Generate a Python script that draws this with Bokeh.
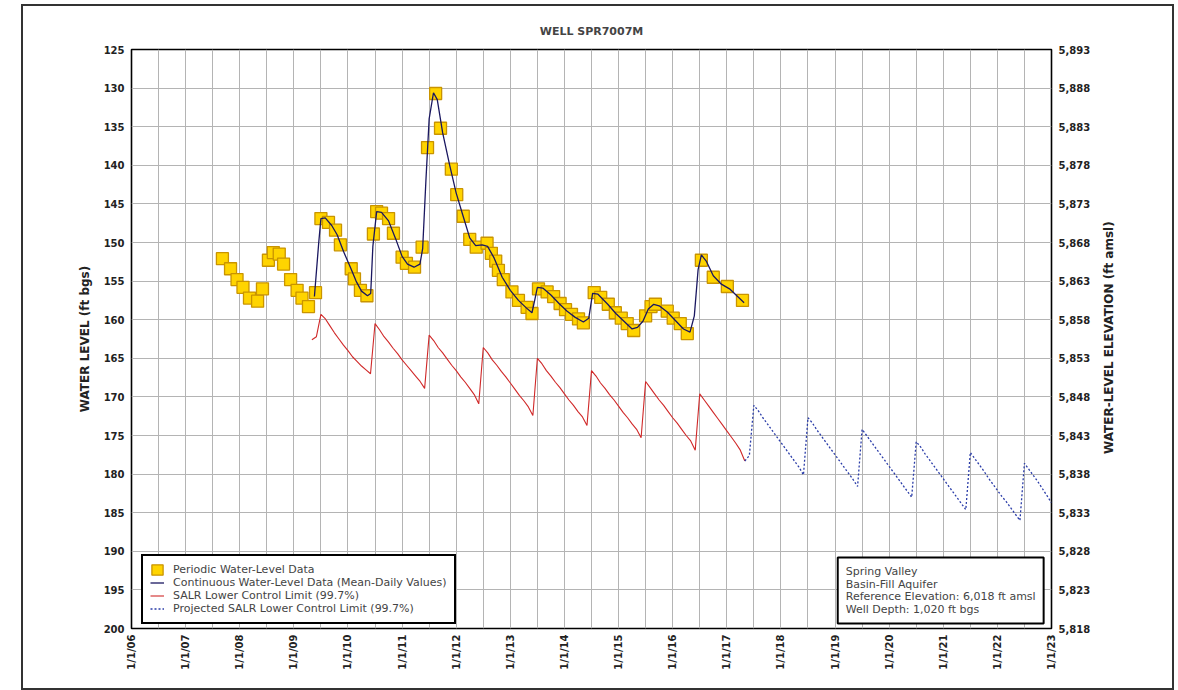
import json
import math
import numpy as np
from bokeh.plotting import figure
from bokeh.models import (Range1d, LinearAxis, FixedTicker, CustomJSTickFormatter,
                          NumeralTickFormatter, Legend, LegendItem, Label, InlineStyleSheet)
from bokeh.embed import file_html
from bokeh.resources import INLINE

FONT = "DejaVu Sans"

well_name = "WELL SPR7007M"
ref_elevation = 6018  # ft amsl
left_title = "WATER LEVEL (ft bgs)"
right_title = "WATER-LEVEL ELEVATION (ft amsl)"
site_notes = ["Spring Valley", "Basin-Fill Aquifer",
              "Reference Elevation: 6,018 ft amsl", "Well Depth: 1,020 ft bgs"]

# Periodic (manual) water-level measurements, decimal year vs. ft below ground surface
periodic_year = [2007.68, 2007.83, 2007.95, 2008.06, 2008.18, 2008.33, 2008.42,
                 2008.53, 2008.62, 2008.73, 2008.81, 2008.94, 2009.06, 2009.15, 2009.27, 2009.40,
                 2009.50, 2009.64, 2009.77, 2009.86, 2010.06, 2010.12, 2010.23, 2010.35,
                 2010.47, 2010.53, 2010.62, 2010.75, 2010.84, 2011.00, 2011.08, 2011.23, 2011.37,
                 2011.47, 2011.62, 2011.71, 2011.91, 2012.01, 2012.13, 2012.25, 2012.37,
                 2012.57, 2012.65, 2012.73, 2012.78, 2012.87, 2013.03, 2013.15, 2013.31, 2013.40,
                 2013.52, 2013.68, 2013.80, 2013.92, 2014.02, 2014.13, 2014.26, 2014.35,
                 2014.55, 2014.67, 2014.81, 2014.94, 2015.05, 2015.16, 2015.28,
                 2015.50, 2015.60, 2015.68, 2015.90, 2016.01, 2016.14, 2016.27,
                 2016.53, 2016.75, 2017.01, 2017.29]
periodic_level = [152.1, 153.4, 154.8, 155.8, 157.2, 157.6, 156.0,
                  152.3, 151.3, 151.5, 152.8, 154.8, 156.2, 157.2, 158.3, 156.5,
                  146.9, 147.4, 148.4, 150.3, 153.4, 154.7, 156.2, 156.9,
                  148.9, 146.0, 146.2, 146.9, 148.8, 151.9, 152.7, 153.2, 150.6,
                  137.7, 130.7, 135.2, 140.5, 143.8, 146.6, 149.6, 150.6,
                  150.1, 151.4, 152.4, 153.6, 154.8, 156.4, 157.5, 158.4, 159.2,
                  156.0, 156.4, 157.0, 157.9, 158.7, 159.3, 159.9, 160.4,
                  156.5, 157.1, 158.0, 159.1, 159.8, 160.5, 161.4,
                  159.5, 158.3, 158.0, 158.9, 159.8, 160.5, 161.8,
                  152.3, 154.5, 155.7, 157.5]

# Continuous transducer record (mean-daily values, thinned)
cont_year = [2009.38, 2009.46, 2009.50, 2009.58, 2009.70, 2009.80, 2009.92, 2010.05, 2010.15,
             2010.25, 2010.36, 2010.42, 2010.46, 2010.53, 2010.62, 2010.75, 2010.88, 2011.00,
             2011.10, 2011.22, 2011.33, 2011.38, 2011.44, 2011.50, 2011.58, 2011.65, 2011.75,
             2011.88, 2012.00, 2012.12, 2012.25, 2012.36, 2012.48, 2012.58, 2012.70, 2012.85,
             2013.00, 2013.15, 2013.30, 2013.40, 2013.45, 2013.50, 2013.60, 2013.75, 2013.90,
             2014.05, 2014.20, 2014.35, 2014.45, 2014.52, 2014.62, 2014.80, 2014.95, 2015.10,
             2015.25, 2015.35, 2015.45, 2015.55, 2015.65, 2015.75, 2015.90, 2016.05, 2016.20,
             2016.32, 2016.40, 2016.47, 2016.53, 2016.62, 2016.75, 2016.90, 2017.05, 2017.20,
             2017.32]
cont_level = [157.0, 150.0, 146.9, 146.8, 147.8, 149.0, 151.2, 153.3, 155.0,
              156.3, 156.9, 156.6, 150.5, 146.0, 146.1, 147.2, 149.5, 151.8,
              152.8, 153.2, 152.8, 150.8, 142.0, 134.0, 130.6, 131.5, 135.8,
              140.0, 143.6, 146.4, 149.4, 150.4, 150.3, 150.5, 152.0, 154.5,
              156.2, 157.5, 158.5, 159.1, 157.5, 155.8, 155.9, 156.8, 157.9,
              158.9, 159.7, 160.3, 159.8, 156.6, 156.7, 158.0, 159.2, 160.2,
              161.2, 161.0, 160.2, 158.6, 158.0, 158.2, 159.0, 160.1, 161.2,
              161.6, 159.5, 153.5, 151.6, 152.4, 154.3, 155.4, 156.0, 157.0,
              157.8]

# SALR lower control limit (99.7%), monthly from May 2009
salr_start = 2009 + 4 / 12
salr_level = [162.6, 162.2, 159.3, 159.9, 160.8, 161.7, 162.5, 163.3,
              164.0, 164.8, 165.4, 166.0, 166.5, 167.0, 160.5, 161.3, 162.2, 162.9, 163.7, 164.4,
              165.2, 165.9, 166.6, 167.3, 168.0, 168.9, 162.0, 162.7, 163.6, 164.3, 165.1, 165.9,
              166.6, 167.4, 168.1, 168.9, 169.7, 170.9, 163.6, 164.3, 165.2, 165.9, 166.7, 167.4,
              168.2, 169.0, 169.8, 170.5, 171.3, 172.4, 165.0, 165.7, 166.6, 167.3, 168.1, 168.8,
              169.6, 170.4, 171.1, 171.9, 172.6, 173.7, 166.6, 167.3, 168.2, 168.9, 169.7, 170.4,
              171.2, 172.0, 172.7, 173.5, 174.2, 175.3, 168.0, 168.8, 169.6, 170.4, 171.1, 171.9,
              172.7, 173.4, 174.2, 175.0, 175.7, 176.9, 169.6, 170.4, 171.2, 172.0, 172.8, 173.6,
              174.4, 175.2, 176.0, 176.9, 178.3]

# Projected SALR lower control limit (99.7%), monthly from May 2017
proj_start = 2017 + 4 / 12
proj_level = [178.3, 177.6, 171.1, 171.8, 172.7, 173.5, 174.3, 175.1,
              175.9, 176.7, 177.5, 178.3, 179.1, 180.1, 172.7, 173.4, 174.3, 175.1, 175.9, 176.7,
              177.5, 178.3, 179.1, 179.9, 180.7, 181.6, 174.2, 175.0, 175.8, 176.6, 177.4, 178.2,
              179.0, 179.8, 180.6, 181.4, 182.2, 183.0, 175.8, 176.5, 177.4, 178.2, 179.0, 179.8,
              180.6, 181.4, 182.2, 183.0, 183.8, 184.6, 177.2, 178.0, 178.8, 179.6, 180.5, 181.3,
              182.1, 182.9, 183.6, 184.4, 185.2, 186.0, 178.6, 179.4, 180.2, 181.0, 181.9, 182.8,
              183.7]

year_ticks = list(range(2006, 2024))
level_ticks = list(range(125, 201, 5))

salr_year = salr_start + np.arange(len(salr_level)) / 12
proj_year = proj_start + np.arange(len(proj_level)) / 12

SQ_FILL = "#ffd400"
SQ_EDGE = "#c99400"

p = figure(width=1178, height=690, output_backend="svg", toolbar_location=None,
           x_range=Range1d(year_ticks[0], year_ticks[-1]),
           y_range=Range1d(level_ticks[-1], level_ticks[0]),
           min_border_left=131, min_border_right=127, min_border_top=49, min_border_bottom=62,
           background_fill_color="white", border_fill_color="white")

# thin page frame drawn around the whole sheet
p.stylesheets = [InlineStyleSheet(css="""
:host { position: relative; }
:host::after {
  content: ""; position: absolute; left: 21px; top: 4px; width: 1149px; height: 682px;
  border: 2px solid #333333; pointer-events: none; z-index: 10;
}
""")]

p.title.text = well_name
p.title.align = "center"
p.title.text_font = FONT
p.title.text_font_size = "11px"
p.title.text_font_style = "bold"
p.title.standoff = 24

p.outline_line_color = "black"
p.outline_line_width = 1.6
p.outline_line_alpha = 1

# grid: horizontal every 5 ft, vertical every half year
p.xgrid.ticker = FixedTicker(ticks=list(np.arange(year_ticks[0], year_ticks[-1] + 0.01, 0.5)))
p.ygrid.ticker = FixedTicker(ticks=level_ticks)
for g in (p.xgrid, p.ygrid):
    g.grid_line_color = "#b4b4b4"
    g.grid_line_width = 1

# left axis
yax = p.yaxis[0]
yax.ticker = FixedTicker(ticks=level_ticks)
yax.axis_label = left_title

# bottom axis
xax = p.xaxis[0]
xax.ticker = FixedTicker(ticks=year_ticks)
xax.formatter = CustomJSTickFormatter(code="return '1/1/' + String(tick).slice(2);")
xax.major_label_orientation = math.pi / 2

# right axis: water-level elevation
elev_lo = ref_elevation - level_ticks[-1]
elev_hi = ref_elevation - level_ticks[0]
p.extra_y_ranges = {"elev": Range1d(elev_lo, elev_hi)}
rax = LinearAxis(y_range_name="elev")
rax.ticker = FixedTicker(ticks=[ref_elevation - v for v in level_ticks])
rax.formatter = NumeralTickFormatter(format="0,0")
p.add_layout(rax, "right")

# the right-hand title reads bottom to top; it is drawn as the single, rotated label
# of a tickless outer axis, whose text starts at its tick, so the tick sits half a
# title length below the middle of the scale
half_title_ft = 14.9
title_tick = (elev_lo + elev_hi) / 2 - half_title_ft
title_axis = LinearAxis(y_range_name="elev", ticker=FixedTicker(ticks=[title_tick]),
                        formatter=CustomJSTickFormatter(code=f"return {json.dumps(right_title)};"))
title_axis.major_label_orientation = math.pi / 2
p.add_layout(title_axis, "right")

for ax in (yax, xax, rax, title_axis):
    ax.axis_line_color = None
    ax.major_tick_line_color = None
    ax.minor_tick_line_color = None
    ax.major_tick_out = 0
    ax.major_tick_in = 0
    ax.major_label_text_font = FONT
    ax.major_label_text_font_style = "bold"
    ax.major_label_text_color = "#222222"
    ax.axis_label_text_font = FONT
    ax.axis_label_text_font_size = "12px"
    ax.axis_label_text_font_style = "bold"
    ax.axis_label_text_color = "#222222"
for ax in (yax, xax, rax):
    ax.major_label_text_font_size = "10px"
title_axis.major_label_text_font_size = "12px"
yax.major_label_standoff = 7
yax.axis_label_standoff = 9
rax.major_label_standoff = 7
title_axis.major_label_standoff = 16
xax.major_label_standoff = 6

# series
r_salr = p.line(salr_year, salr_level, line_color="#d02828", line_width=1.1)
r_proj = p.line(proj_year, proj_level, line_color="#2a3ca8", line_width=1.3, line_dash="2 2")
p.scatter(periodic_year, periodic_level, marker="square", size=12,
          fill_color=SQ_FILL, line_color=SQ_EDGE, line_width=1.3)
r_cont = p.line(cont_year, cont_level, line_color="#1a1760", line_width=1.3)

# legend swatch for the periodic squares (NaN geometry: drawn only as a legend key)
nan = float("nan")
r_key = p.quad(left=[nan], right=[nan], top=[nan], bottom=[nan],
               fill_color=SQ_FILL, line_color=SQ_EDGE, line_width=1.3)

legend = Legend(items=[
    LegendItem(label="Periodic Water-Level Data", renderers=[r_key]),
    LegendItem(label="Continuous Water-Level Data (Mean-Daily Values)", renderers=[r_cont]),
    LegendItem(label="SALR Lower Control Limit (99.7%)", renderers=[r_salr]),
    LegendItem(label="Projected SALR Lower Control Limit (99.7%)", renderers=[r_proj]),
], location=(10, 4))
legend.border_line_color = "black"
legend.border_line_alpha = 1
legend.border_line_width = 2
legend.background_fill_color = "white"
legend.background_fill_alpha = 1
legend.label_text_font = FONT
legend.label_text_font_size = "11px"
legend.label_height = 12
legend.glyph_height = 13
legend.glyph_width = 14
legend.label_standoff = 9
legend.spacing = 0
legend.padding = 7
legend.margin = 0
p.add_layout(legend)

info = Label(x=2019.05, y=190.8, text="\n".join(site_notes),
             text_font=FONT, text_font_size="11px", text_align="left", text_baseline="top",
             text_line_height=0.95,
             border_line_color="black", border_line_width=2, border_line_alpha=1,
             background_fill_color="white", background_fill_alpha=1, padding=8)
p.add_layout(info)

open("out.html", "w").write(file_html(p, INLINE))
